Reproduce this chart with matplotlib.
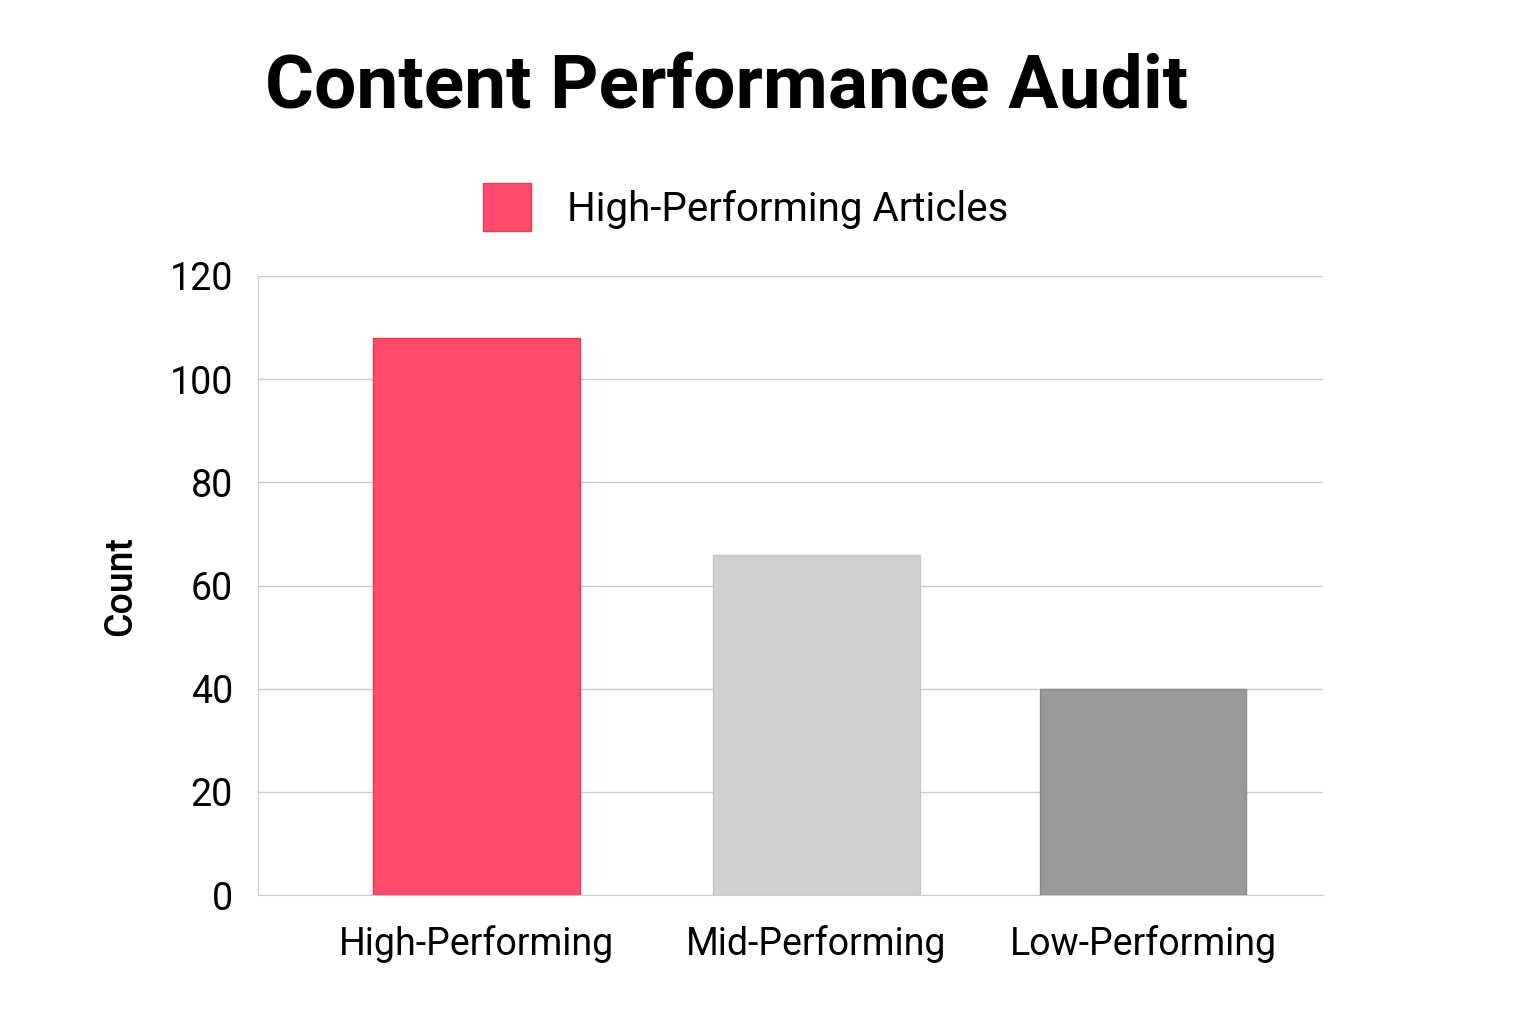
import matplotlib
matplotlib.use("Agg")
import matplotlib.pyplot as plt
from matplotlib.patches import FancyBboxPatch
from matplotlib.lines import Line2D

categories = ["High-Performing", "Mid-Performing", "Low-Performing"]
counts = [108, 66, 40]
colors = ["#ff4a6b", "#d0d0d0", "#999999"]
edges = ["#e83a5a", "#c4c4c4", "#888888"]
yticks = [0, 20, 40, 60, 80, 100, 120]

plt.rcParams["font.family"] = "Roboto"
fig = plt.figure(figsize=(15.36, 10.24), dpi=100)
ax = fig.add_axes([258/1536, 1-895/1024, (1323-258)/1536, (895-276)/1024])
x = [0, 1.02, 2.0]
ax.bar(x, counts, width=0.62, color=colors, edgecolor=edges, linewidth=1, zorder=3)
ax.set_xticks(x)
ax.set_xticklabels(categories, fontsize=27)
ax.set_xlim(-0.655, 2.54)
ax.set_ylim(0, 120)
ax.set_yticks(yticks)
ax.tick_params(axis="y", labelsize=27, length=0, pad=18)
ax.tick_params(axis="x", length=0, pad=22)
ax.grid(axis="y", color="#cccccc", linewidth=1, zorder=0)
for s in ["top", "right"]:
    ax.spines[s].set_visible(False)
ax.spines["left"].set_color("#cccccc")
ax.spines["bottom"].set_color("#cccccc")
ax.set_ylabel("Count", fontsize=27, fontweight="medium", labelpad=22)
fig.text(0.473, 0.915, "Content Performance Audit", fontsize=54, fontweight="bold", ha="center", va="center")
handle = Line2D([], [], marker="s", linestyle="none", markersize=34, markerfacecolor="#ff4a6b", markeredgecolor="#e83a5a")
fig.legend([handle], ["High-Performing Articles"], loc="center", bbox_to_anchor=(0.480, 0.795), frameon=False, fontsize=29, handletextpad=0.5)
fig.savefig("out.png", dpi=100)
